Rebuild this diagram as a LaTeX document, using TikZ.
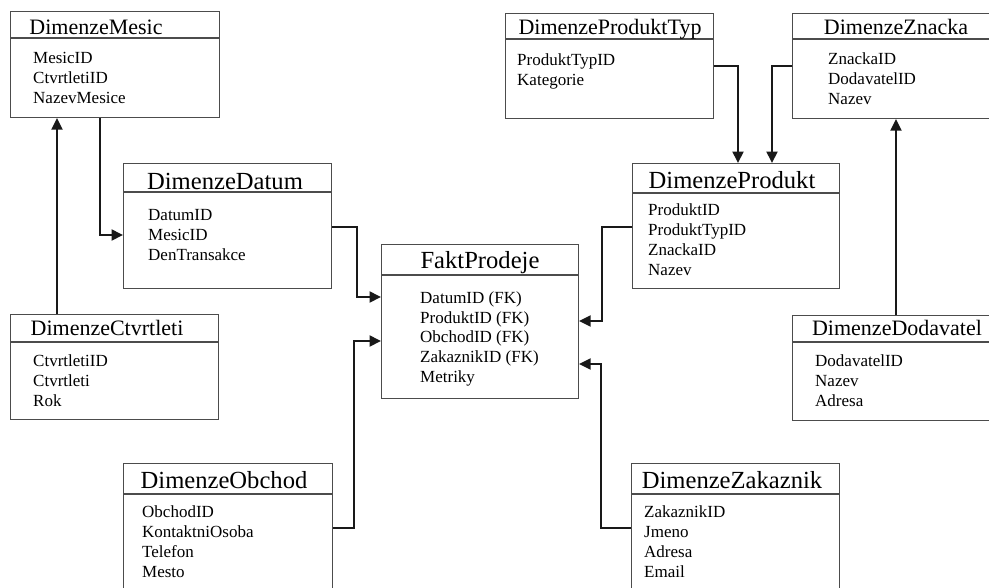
\documentclass[tikz,border=0pt]{standalone}
\usepackage{fontspec}
\setmainfont{Liberation Serif}
\usetikzlibrary{calc}
\usetikzlibrary{arrows.meta}

\begin{document}
\begin{tikzpicture}[x=1pt, y=-1pt,
        tabulka/.style={draw=black!70, line width=1.1pt, anchor=north west, inner sep=0pt},
        deleni/.style={draw=black!70, line width=1.1pt},
        nadpis/.style={anchor=base, inner sep=0pt, font=\fontsize{22}{26}\selectfont},
        nadpisvelky/.style={nadpis, font=\fontsize{24.6}{29}\selectfont},
        polozka/.style={anchor=base west, inner sep=0pt, font=\fontsize{17}{20}\selectfont},
        spoj/.style={draw=black!90, line width=2pt, -{Triangle[length=11.5pt, width=11pt]}}]

        \useasboundingbox (0, 0) rectangle (989, 587);
        \fill[white] (0, 0) rectangle (989, 587);
        \clip (0, 0) rectangle (989, 587);

        % tabulky vlevo
        \node[tabulka, minimum width=209, minimum height=106] (mesic) at (10, 11) {};
        \draw[deleni] ($(mesic.north west)+(0, 27)$) -- ($(mesic.north east)+(0, 27)$);
        \node[nadpis] (mesic-t) at (96, 34) {DimenzeMesic};
        \foreach \t [count=\i] in {MesicID, CtvrtletiID, NazevMesice}
            \node[polozka] (mesic-\i) at (33, {43+20*\i}) {\t};

        \node[tabulka, minimum width=208, minimum height=105] (ctvrt) at (10, 314) {};
        \draw[deleni] ($(ctvrt.north west)+(0, 28)$) -- ($(ctvrt.north east)+(0, 28)$);
        \node[nadpis] (ctvrt-t) at (107, 335) {DimenzeCtvrtleti};
        \foreach \t [count=\i] in {CtvrtletiID, Ctvrtleti, Rok}
            \node[polozka] (ctvrt-\i) at (33, {346+20*\i}) {\t};

        \node[tabulka, minimum width=208, minimum height=125] (datum) at (123, 163) {};
        \draw[deleni] ($(datum.north west)+(0, 29)$) -- ($(datum.north east)+(0, 29)$);
        \node[nadpisvelky] (datum-t) at (225, 189) {DimenzeDatum};
        \foreach \t [count=\i] in {DatumID, MesicID, DenTransakce}
            \node[polozka] (datum-\i) at (148, {200+20*\i}) {\t};

        \node[tabulka, minimum width=209, minimum height=140] (obchod) at (123, 463) {};
        \draw[deleni] ($(obchod.north west)+(0, 31)$) -- ($(obchod.north east)+(0, 31)$);
        \node[nadpisvelky] (obchod-t) at (224, 488) {DimenzeObchod};
        \foreach \t [count=\i] in {ObchodID, KontaktniOsoba, Telefon, Mesto}
            \node[polozka] (obchod-\i) at (142, {497+20*\i}) {\t};

        % fakt
        \node[tabulka, minimum width=197, minimum height=154] (fakt) at (381, 244) {};
        \draw[deleni] ($(fakt.north west)+(0, 31)$) -- ($(fakt.north east)+(0, 31)$);
        \node[nadpisvelky] (fakt-t) at (480, 268) {FaktProdeje};
        \foreach \t [count=\i] in {DatumID (FK), ProduktID (FK), ObchodID (FK), ZakaznikID (FK), Metriky}
            \node[polozka] (fakt-\i) at (420, {283.5+19.75*\i}) {\t};

        % tabulky vpravo
        \node[tabulka, minimum width=208, minimum height=105] (typ) at (505, 13) {};
        \draw[deleni] ($(typ.north west)+(0, 26)$) -- ($(typ.north east)+(0, 26)$);
        \node[nadpis] (typ-t) at (610, 34) {DimenzeProduktTyp};
        \foreach \t [count=\i] in {ProduktTypID, Kategorie}
            \node[polozka] (typ-\i) at (517, {45+20*\i}) {\t};

        \node[tabulka, minimum width=210, minimum height=105] (znacka) at (792, 13) {};
        \draw[deleni] ($(znacka.north west)+(0, 26)$) -- ($(znacka.north east)+(0, 26)$);
        \node[nadpis] (znacka-t) at (896, 34) {DimenzeZnacka};
        \foreach \t [count=\i] in {ZnackaID, DodavatelID, Nazev}
            \node[polozka] (znacka-\i) at (828, {45+19.7*\i}) {\t};

        \node[tabulka, minimum width=207, minimum height=125] (produkt) at (632, 163) {};
        \draw[deleni] ($(produkt.north west)+(0, 30)$) -- ($(produkt.north east)+(0, 30)$);
        \node[nadpisvelky] (produkt-t) at (732, 188) {DimenzeProdukt};
        \foreach \t [count=\i] in {ProduktID, ProduktTypID, ZnackaID, Nazev}
            \node[polozka] (produkt-\i) at (648, {195+20*\i}) {\t};

        \node[tabulka, minimum width=210, minimum height=105] (dodav) at (792, 315) {};
        \draw[deleni] ($(dodav.north west)+(0, 27)$) -- ($(dodav.north east)+(0, 27)$);
        \node[nadpis] (dodav-t) at (897, 335) {DimenzeDodavatel};
        \foreach \t [count=\i] in {DodavatelID, Nazev, Adresa}
            \node[polozka] (dodav-\i) at (815, {346+20*\i}) {\t};

        \node[tabulka, minimum width=208, minimum height=140] (zakaznik) at (631, 463) {};
        \draw[deleni] ($(zakaznik.north west)+(0, 31)$) -- ($(zakaznik.north east)+(0, 31)$);
        \node[nadpisvelky] (zakaznik-t) at (732, 488) {DimenzeZakaznik};
        \foreach \t [count=\i] in {ZakaznikID, Jmeno, Adresa, Email}
            \node[polozka] (zakaznik-\i) at (644, {497+20*\i}) {\t};

        % spoje
        \draw[spoj] ($(mesic.south west)+(90, 0)$) |- ($(datum.north west)+(0, 72)$);
        \draw[spoj] ($(ctvrt.north west)+(47, 0)$) -- ($(mesic.south west)+(47, 0)$);
        \draw[spoj] ($(datum.north east)+(0, 64)$) -- ++(25, 0) |- ($(fakt.north west)+(0, 53)$);
        \draw[spoj] ($(obchod.north east)+(0, 65)$) -- ++(21, 0) |- ($(fakt.north west)+(0, 97)$);
        \draw[spoj] ($(produkt.north west)+(0, 64)$) -- ++(-30, 0) |- ($(fakt.north east)+(0, 77)$);
        \draw[spoj] ($(zakaznik.north west)+(0, 65)$) -- ++(-30, 0) |- ($(fakt.north east)+(0, 120)$);
        \draw[spoj] ($(typ.north east)+(0, 53)$) -| ($(produkt.north west)+(106, 0)$);
        \draw[spoj] ($(znacka.north west)+(0, 53)$) -| ($(produkt.north west)+(140, 0)$);
        \draw[spoj] ($(dodav.north west)+(104, 0)$) -- ($(znacka.south west)+(104, 0)$);
    \end{tikzpicture}
\end{document}
